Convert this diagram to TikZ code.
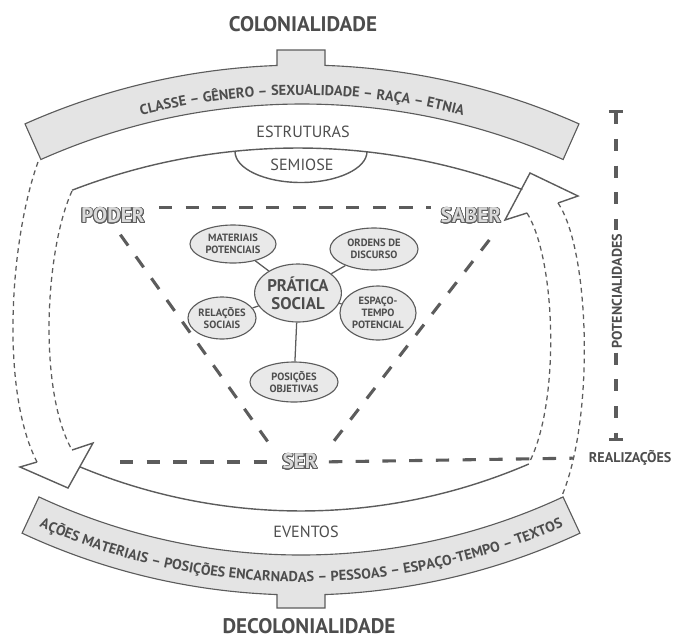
\documentclass[tikz,border=0pt]{standalone}
\usepackage{fontspec}
\setmainfont{PT Sans}
\usepackage[copies]{contour}
\usetikzlibrary{calc,shapes.geometric,decorations.text,arrows.meta}

\definecolor{ink}{HTML}{4D4D4D}
\definecolor{wire}{HTML}{5C5C5C}
\definecolor{bandgray}{HTML}{E4E4E4}
\definecolor{ovalgray}{HTML}{E9E9E9}

\contourlength{0.6pt}
\contournumber{24}
\newcommand{\hollow}[1]{\textcolor{white!85!black}{\contour{ink!90}{#1}}}
\newcommand{\bandfont}{\fontsize{10.2}{11}\selectfont\bfseries\color{ink}}

\begin{document}
\begin{tikzpicture}[x=0.025cm,y=-0.025cm,
    band/.style={draw=wire, line width=0.8pt, fill=bandgray},
    loopline/.style={draw=wire, line width=1pt},
    fine/.style={draw=wire, line width=0.9pt, dash pattern=on 3.5pt off 2.8pt},
    triline/.style={draw=wire, line width=2.2pt, dash pattern=on 9.5pt off 9.5pt},
    bighead/.style={draw=wire, line width=1pt, line join=miter},
    bracket/.style={draw=wire, line width=2.6pt, dash pattern=on 8.5pt off 10.5pt, arrows={Bar[width=10pt,line width=2pt]-Bar[width=10pt,line width=2pt]}},
    oval/.style={ellipse, draw=wire, line width=0.8pt, fill=ovalgray, inner sep=0pt, align=center, text=ink, font=\fontsize{7.5}{8.5}\selectfont\bfseries},
    link/.style={draw=wire, line width=0.9pt},
    hollowtext/.style={inner sep=0pt, font=\fontsize{15}{16}\selectfont\bfseries},
    plain/.style={text=ink, font=\fontsize{11.5}{13}\selectfont},
    sidetext/.style={text=ink, font=\fontsize{10}{11}\selectfont\bfseries},
    headline/.style={text=ink, font=\fontsize{15}{18}\selectfont\bfseries}]

    \useasboundingbox (0,0) rectangle (676,639);

     \coordinate (ct) at (302,746);
     \coordinate (cb) at (301,-65);
     \coordinate (ci) at (298,774);

     % bands
     \draw[band] ($(ct)+(-114:681)$) arc[start angle=-114, end angle=-92.1, radius=681]
        -- (277,50) -- (325,50) -- ($(ct)+(-88.06:681)$)
        arc[start angle=-88.06, end angle=-66, radius=681]
        -- ($(ct)+(-66:642)$) arc[start angle=-66, end angle=-114, radius=642] -- cycle;
     \draw[band] ($(cb)+(115:620)$) arc[start angle=115, end angle=65, radius=620]
        -- ($(cb)+(65:660)$) arc[start angle=65, end angle=87.92, radius=660]
        -- (325,608) -- (277,608) -- ($(cb)+(92.08:660)$)
        arc[start angle=92.08, end angle=115, radius=660] -- cycle;

     \path[decorate, decoration={text along path, text align=center,
        text={|\bandfont|CLASSE – GÊNERO – SEXUALIDADE – RAÇA – ETNIA}}]
        ($(ct)+(-115:651)$) arc[start angle=-115, end angle=-65, radius=651];
     \path[decorate, decoration={text along path, text align=center,
        text={|\bandfont|AÇÕES MATERIAIS – POSIÇÕES ENCARNADAS – PESSOAS – ESPAÇO-TEMPO – TEXTOS}}]
        ($(cb)+(119:647)$) arc[start angle=119, end angle=61, radius=647];

     \node[headline] (colon) at (303,24) {COLONIALIDADE};
     \node[headline] (decolon) at (309,626) {DECOLONIALIDADE};

     % loop
     \draw[loopline] ($(ci)+(-111.15:626)$) arc[start angle=-111.15, end angle=-69, radius=626];
     \draw[loopline] ($(cb)+(112.6:576)$) arc[start angle=112.6, end angle=66.7, radius=576];
     \draw[loopline] (235,151.5) arc[start angle=180, end angle=0, x radius=66, y radius=31];

     \draw[fine] (38,162) .. controls (10,240) and (0,390) .. (37,462);
     \draw[fine] (72,191) .. controls (45,250) and (38,390) .. (72,450);
     \draw[fine] (527,213) .. controls (556,260) and (560,400) .. (530,461);
     \draw[fine] (558,203) .. controls (590,250) and (595,420) .. (561,498);

     \draw[bighead] (527,213) -- (505,220) -- (530,173) -- (578,196) -- (558,203);
     \draw[bighead] (37,462) -- (20,467) -- (68,488) -- (93,443) -- (72,450);

     \node[plain] (estr) at (303,132) {ESTRUTURAS};
     \node[plain] (semi) at (302,165) {SEMIOSE};
     \node[plain] (even) at (306,532) {EVENTOS};

     % triangle
     \node[hollowtext] (poder) at (113,216) {\hollow{PODER}};
     \node[hollowtext] (saber) at (471,216) {\hollow{SABER}};
     \node[hollowtext] (ser) at (300,462) {\hollow{SER}};
     \coordinate (hl) at (120,462);
     \node[sidetext, anchor=west] (real) at (584,458) {REALIZAÇÕES};

     \draw[triline, shorten <=10pt, shorten >=7pt] (poder.north east) -- (saber.north west);
     \draw[triline, shorten <=9pt, shorten >=11pt] (poder.south) -- (ser.west);
     \draw[triline, shorten <=14pt, shorten >=13pt] (saber.south east) -- (ser.east);
     \draw[triline, shorten >=8pt] (hl) -- (ser.west);
     \draw[triline, shorten <=8pt, shorten >=8pt] (ser.east) -- (real.west);

     % potencialidades
     \coordinate (ptop) at (616,110);
     \coordinate (pbot) at (616,441);
     \draw[bracket] (ptop) -- (pbot);
     \node[sidetext, rotate=90, fill=white, inner sep=3pt] (pot) at (617,291) {POTENCIALIDADES};

     % pratica social
     \node[oval, minimum width=2.05cm, minimum height=1.45cm, font=\fontsize{12}{12.5}\selectfont\bfseries] (ps) at (298,293) {PRÁTICA\\SOCIAL};
     \node[oval, minimum width=2.15cm, minimum height=0.95cm] (mp) at (233,244) {MATERIAIS\\POTENCIAIS};
     \node[oval, minimum width=2.2cm, minimum height=1.05cm] (od) at (374,249) {ORDENS DE\\DISCURSO};
     \node[oval, minimum width=1.9cm, minimum height=1.35cm] (et) at (378,313) {ESPAÇO-\\TEMPO\\POTENCIAL};
     \node[oval, minimum width=1.7cm, minimum height=1.05cm] (rs) at (222,318) {RELAÇÕES\\SOCIAIS};
     \node[oval, minimum width=2.2cm, minimum height=1.0cm] (po) at (294,382) {POSIÇÕES\\OBJETIVAS};

     \draw [link] (ps) to (mp);
     \draw [link] (ps) to (od);
     \draw [link] (ps) to (et);
     \draw [link] (ps) to (rs);
     \draw [link] (ps) to (po);

\end{tikzpicture}
\end{document}
